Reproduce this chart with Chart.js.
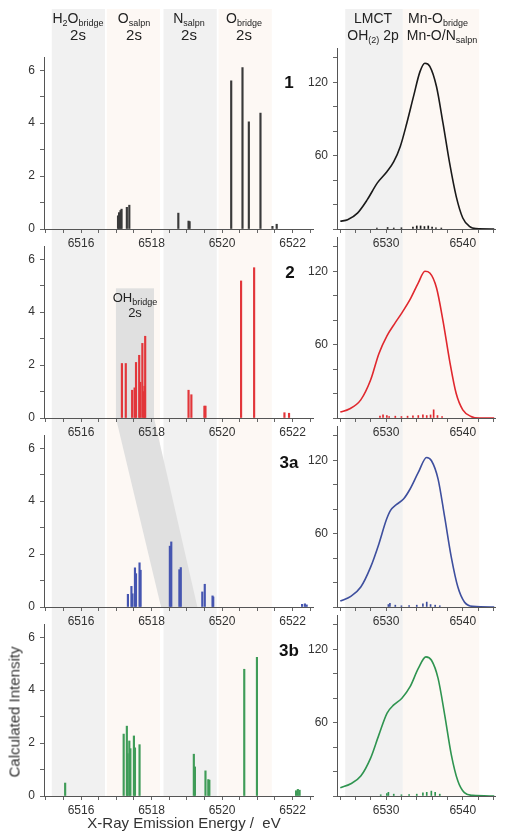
<!DOCTYPE html>
<html><head><meta charset="utf-8">
<script src="https://cdn.jsdelivr.net/npm/chart.js@4/dist/chart.umd.min.js"></script>
<style>
html,body{margin:0;padding:0;background:#fff}
body{width:507px;height:837px;overflow:hidden;position:relative;font-family:"Liberation Sans",Arial,sans-serif;color:#222}
canvas{position:absolute}
.t{position:absolute;white-space:nowrap;line-height:1;transform:translate(-50%,-50%);text-align:center}
.s{font-size:9px;position:relative;top:3px}
.h{font-size:14px;color:#222}
.pl{font-weight:bold;font-size:17px;color:#111}
</style></head><body>
<script>
// ---------- DATA ----------
// Left column: calculated stick spectra (eV, intensity)
const sticks1X = [6517.05, 6517.08, 6517.12, 6517.15, 6517.30, 6517.37, 6518.76, 6519.05, 6519.08, 6520.26, 6520.58, 6520.76, 6521.09, 6521.43, 6521.55];
const sticks1Y = [0.50, 0.62, 0.70, 0.75, 0.82, 0.90, 0.60, 0.30, 0.28, 5.60, 6.10, 4.05, 4.38, 0.10, 0.18];
const sticks2X = [6517.16, 6517.27, 6517.45, 6517.52, 6517.56, 6517.65, 6517.68, 6517.74, 6517.78, 6517.80, 6517.82, 6519.05, 6519.13, 6519.50, 6519.53, 6520.54, 6520.91, 6521.77, 6521.90];
const sticks2Y = [2.06, 2.06, 1.05, 1.14, 2.10, 2.37, 1.35, 2.82, 1.00, 1.20, 3.09, 1.05, 0.88, 0.45, 0.45, 5.18, 5.68, 0.20, 0.18];
const sticks3aX = [6517.33, 6517.43, 6517.46, 6517.53, 6517.56, 6517.66, 6517.69, 6518.52, 6518.56, 6518.79, 6518.83, 6519.44, 6519.51, 6519.73, 6519.75, 6522.27, 6522.35, 6522.40];
const sticks3aY = [0.48, 0.78, 0.50, 1.48, 1.26, 1.67, 1.39, 2.30, 2.46, 1.41, 1.49, 0.57, 0.86, 0.42, 0.38, 0.10, 0.12, 0.08];
const sticks3bX = [6515.55, 6517.21, 6517.30, 6517.32, 6517.37, 6517.40, 6517.50, 6517.53, 6517.66, 6519.20, 6519.23, 6519.53, 6519.61, 6519.64, 6520.63, 6520.99, 6522.10, 6522.15, 6522.20];
const sticks3bY = [0.49, 2.34, 2.64, 1.60, 2.08, 1.79, 2.27, 1.82, 1.94, 1.58, 1.10, 0.95, 0.62, 0.60, 4.79, 5.24, 0.20, 0.25, 0.22];

// Right column: broadened spectra (eV, intensity)
const curve1X = [6524.03, 6524.98, 6526.27, 6527.55, 6528.84, 6530.13, 6531.00, 6531.85, 6532.70, 6533.56, 6534.42, 6535.06, 6535.70, 6536.57, 6537.42, 6538.28, 6539.14, 6540.00, 6540.86, 6541.70, 6544.10];
const curve1Y = [6.3, 7.6, 13.0, 24.0, 37.5, 47.0, 55.0, 67.5, 86.5, 108.0, 128.7, 135.5, 133.0, 116.5, 86.5, 54.0, 26.7, 9.0, 2.2, 0.3, 0.0];
const curve2X = [6524.03, 6525.20, 6526.70, 6527.98, 6529.06, 6530.13, 6531.20, 6532.06, 6533.13, 6534.20, 6535.06, 6535.70, 6536.57, 6537.42, 6538.28, 6539.14, 6540.00, 6541.07, 6542.15, 6544.10];
const curve2Y = [4.9, 7.3, 14.8, 31.0, 52.6, 67.4, 78.0, 86.0, 97.0, 110.5, 120.0, 118.6, 106.5, 79.5, 47.0, 20.0, 6.7, 1.3, 0.0, 0.0];
const curve3aX = [6524.03, 6525.40, 6526.70, 6527.98, 6529.06, 6530.00, 6530.56, 6531.33, 6532.27, 6533.13, 6534.20, 6535.28, 6535.92, 6536.78, 6537.64, 6538.50, 6539.36, 6540.21, 6541.29, 6544.10];
const curve3aY = [4.9, 8.7, 16.3, 32.6, 51.6, 70.7, 78.8, 83.7, 88.3, 96.5, 110.0, 122.3, 119.6, 104.6, 73.4, 40.8, 16.3, 4.1, 0.5, 0.0];
const curve3bX = [6524.03, 6525.40, 6526.70, 6527.98, 6529.06, 6530.13, 6531.00, 6532.06, 6533.13, 6534.20, 6535.19, 6535.92, 6536.78, 6537.64, 6538.50, 6539.36, 6540.21, 6541.29, 6544.10];
const curve3bY = [6.8, 10.0, 16.3, 31.0, 50.0, 67.8, 74.5, 80.0, 89.4, 104.3, 113.8, 111.0, 96.2, 66.4, 33.9, 12.2, 2.7, 0.5, 0.0];

// Right column: small sticks under the curves
const rs1X = [6528.8, 6530.2, 6531.0, 6532.0, 6533.5, 6534.0, 6534.5, 6535.0, 6535.5, 6536.0, 6536.5, 6537.2];
const rs1Y = [0.8, 1.2, 0.8, 1.0, 1.5, 2.5, 2.5, 2.0, 2.5, 1.5, 1.0, 0.8];
const rs2X = [6529.2, 6529.6, 6530.1, 6530.4, 6531.2, 6532.0, 6532.8, 6533.5, 6534.2, 6534.8, 6535.3, 6535.8, 6536.2, 6536.7, 6537.3];
const rs2Y = [1.5, 2.5, 2.0, 1.2, 1.5, 1.2, 1.5, 1.8, 2.0, 2.5, 2.0, 2.5, 6.7, 2.0, 1.2];
const rs3aX = [6530.3, 6530.5, 6531.2, 6532.0, 6533.0, 6534.0, 6534.8, 6535.3, 6535.8, 6536.4, 6537.0];
const rs3aY = [2.0, 3.0, 1.5, 1.0, 1.2, 1.5, 2.5, 4.0, 2.0, 1.5, 1.0];
const rs3bX = [6529.3, 6530.1, 6530.3, 6531.0, 6532.0, 6533.0, 6534.0, 6534.8, 6535.3, 6535.9, 6536.4, 6537.0];
const rs3bY = [1.0, 2.0, 3.0, 1.5, 1.0, 1.2, 1.5, 2.5, 3.0, 4.0, 3.0, 1.5];

// Energy ranges of the shaded orbital regions
const leftBandFrom = [6515.17, 6516.73, 6518.34, 6519.90];
const leftBandTo   = [6516.68, 6518.24, 6519.85, 6521.41];
const rightBandFrom = [6524.67, 6532.19];
const rightBandTo   = [6532.19, 6542.14];
// OH-bridge highlight: energy range in panel 2 and its shifted range in panel 3a, top intensity
const ohRange2 = [6516.99, 6518.07];
const ohRange3a = [6518.27, 6519.30];
const ohTop = 4.9;

// Axis ranges
const leftX = [6514.95, 6522.58];
const leftY = [0, 6.5];
const rightX = [6523.6, 6544.2];
const rightY = [0, 148];

// ---------- LAYOUT ----------
const BASE = [229, 418, 607, 796];
const CB = 220, CH = 242;
const bandColors = ['#f1f1f1', '#fdf8f4'];
const FONT = '"Liberation Sans", Arial, sans-serif';
Chart.defaults.font.family = FONT;
Chart.defaults.color = '#333';

function isMult(v, m){ return Math.abs(v/m - Math.round(v/m)) < 1e-6; }

function bandsPlugin(k, from, to, withOH){
  return {
    id: 'bg' + k,
    beforeDraw(chart){
      const ctx = chart.ctx, xs = chart.scales.x, ys = chart.scales.y;
      const top = BASE[k] - CB;
      const s0 = k === 0 ? 0 : (BASE[k-1] + 22) - top;
      const s1 = k === 3 ? chart.chartArea.bottom : CH;
      ctx.save();
      ctx.beginPath(); ctx.rect(0, s0, chart.width, s1 - s0); ctx.clip();
      from.forEach((f, i) => {
        const a = xs.getPixelForValue(f), b = xs.getPixelForValue(to[i]);
        ctx.fillStyle = bandColors[i % 2];
        ctx.fillRect(a, s0, b - a, s1 - s0);
      });
      if (withOH) {
        ctx.fillStyle = '#e0e0e0';
        const bot = chart.chartArea.bottom;
        let yTop, yBot;
        if (k === 1) {
          const a = xs.getPixelForValue(ohRange2[0]), b = xs.getPixelForValue(ohRange2[1]);
          const yt = ys.getPixelForValue(ohTop);
          ctx.fillRect(a, yt, b - a, bot - yt);
          yTop = bot; yBot = bot + (BASE[2] - BASE[1]);
        } else {
          yTop = bot - (BASE[2] - BASE[1]); yBot = bot;
        }
        ctx.beginPath();
        ctx.moveTo(xs.getPixelForValue(ohRange2[0]), yTop);
        ctx.lineTo(xs.getPixelForValue(ohRange2[1]), yTop);
        ctx.lineTo(xs.getPixelForValue(ohRange3a[1]), yBot);
        ctx.lineTo(xs.getPixelForValue(ohRange3a[0]), yBot);
        ctx.closePath(); ctx.fill();
      }
      ctx.restore();
    }
  };
}

function mkCanvas(left, top, w, h){
  const c = document.createElement('canvas');
  c.width = w; c.height = h;
  c.style.left = left + 'px'; c.style.top = top + 'px';
  c.style.width = w + 'px'; c.style.height = h + 'px';
  document.body.appendChild(c);
  return c;
}

function axisCommon(){
  return {
    grid: {display: true, drawOnChartArea: false, drawTicks: true, tickLength: 4, color: '#666', offset: false},
    border: {display: true, color: '#555', width: 1},
  };
}

function leftChart(k, xs, ys, color){
  const cv = mkCanvas(0, BASE[k] - CB, 320, CH);
  new Chart(cv, {
    type: 'bar',
    data: {datasets: [{data: xs.map((x, i) => ({x: x, y: ys[i]})), backgroundColor: color, borderWidth: 0, barThickness: 1.5}]},
    options: {
      responsive: false, animation: false, devicePixelRatio: 1,
      layout: {padding: {top: 48, right: 7, left: 0, bottom: 0}},
      plugins: {legend: {display: false}, tooltip: {enabled: false}},
      scales: {
        x: Object.assign(axisCommon(), {
          type: 'linear', min: leftX[0], max: leftX[1], offset: false,
          ticks: {stepSize: 0.5, includeBounds: false, autoSkip: false, maxRotation: 0, minRotation: 0, padding: 3, color: '#333', font: {size: 12},
            callback: v => isMult(v, 2) ? String(Math.round(v)) : ''},
          afterFit: s => { s.height = CH - CB; }
        }),
        y: Object.assign(axisCommon(), {
          min: leftY[0], max: leftY[1],
          ticks: {stepSize: 1, includeBounds: false, autoSkip: false, padding: 5, color: '#333', font: {size: 12},
            callback: v => isMult(v, 2) ? String(Math.round(v)) : ''},
          afterFit: s => { s.width = 44; }
        })
      }
    },
    plugins: [bandsPlugin(k, leftBandFrom, leftBandTo, k === 1 || k === 2)]
  });
}

function rightChart(k, cx, cy, sx, sy, color){
  const cv = mkCanvas(297, BASE[k] - CB, 210, CH);
  new Chart(cv, {
    type: 'line',
    data: {datasets: [
      {type: 'line', data: cx.map((x, i) => ({x: x, y: cy[i]})), borderColor: color, borderWidth: 1.6, pointRadius: 0, fill: false, cubicInterpolationMode: 'monotone', order: 0},
      {type: 'bar', data: sx.map((x, i) => ({x: x, y: sy[i]})), backgroundColor: color, borderWidth: 0, barThickness: 1, order: 1}
    ]},
    options: {
      responsive: false, animation: false, devicePixelRatio: 1,
      layout: {padding: {top: 39, right: 12, left: 0, bottom: 0}},
      plugins: {legend: {display: false}, tooltip: {enabled: false}},
      scales: {
        x: Object.assign(axisCommon(), {
          type: 'linear', min: rightX[0], max: rightX[1], offset: false,
          ticks: {stepSize: 2, includeBounds: false, autoSkip: false, maxRotation: 0, minRotation: 0, padding: 3, color: '#333', font: {size: 12},
            callback: v => isMult(v, 10) ? String(Math.round(v)) : ''},
          afterFit: s => { s.height = CH - CB; }
        }),
        y: Object.assign(axisCommon(), {
          min: rightY[0], max: rightY[1],
          ticks: {stepSize: 20, includeBounds: false, autoSkip: false, padding: 5, color: '#333', font: {size: 12},
            callback: v => (v > 0 && isMult(v, 60)) ? String(Math.round(v)) : ''},
          afterFit: s => { s.width = 40; }
        })
      }
    },
    plugins: [bandsPlugin(k, rightBandFrom, rightBandTo, false)]
  });
}

leftChart(0, sticks1X, sticks1Y, '#3a3a3a');
rightChart(0, curve1X, curve1Y, rs1X, rs1Y, '#1a1a1a');
leftChart(1, sticks2X, sticks2Y, '#e2363a');
rightChart(1, curve2X, curve2Y, rs2X, rs2Y, '#e0282e');
leftChart(2, sticks3aX, sticks3aY, '#4555b0');
rightChart(2, curve3aX, curve3aY, rs3aX, rs3aY, '#3e4f9e');
leftChart(3, sticks3bX, sticks3bY, '#3f9c58');
rightChart(3, curve3bX, curve3bY, rs3bX, rs3bY, '#2f9450');

// ---------- TEXT ----------
function addText(html, x, y, cls, extra){
  const d = document.createElement('div');
  d.className = 't ' + (cls || '');
  d.innerHTML = html;
  d.style.left = x + 'px'; d.style.top = y + 'px';
  if (extra) Object.assign(d.style, extra);
  document.body.appendChild(d);
  return d;
}
addText('H<span class="s">2</span>O<span class="s">bridge</span>', 78, 18, 'h');
addText('2s', 78, 34, 'h', {fontSize: '15px'});
addText('O<span class="s">salpn</span>', 134, 18, 'h');
addText('2s', 134, 34, 'h', {fontSize: '15px'});
addText('N<span class="s">salpn</span>', 189, 18, 'h');
addText('2s', 189, 34, 'h', {fontSize: '15px'});
addText('O<span class="s">bridge</span>', 244, 18, 'h');
addText('2s', 244, 34, 'h', {fontSize: '15px'});
addText('LMCT', 373, 18, 'h');
addText('OH<span class="s">(2)</span> 2p', 373, 35, 'h');
addText('Mn-O<span class="s">bridge</span>', 438, 18, 'h');
addText('Mn-O/N<span class="s">salpn</span>', 442, 35, 'h');
addText('OH<span class="s">bridge</span>', 135, 297, 'h', {fontSize: '13px'});
addText('2s', 135, 312, 'h', {fontSize: '13px'});
addText('1', 289, 82, 'pl');
addText('2', 290, 272, 'pl');
addText('3a', 289, 462, 'pl');
addText('3b', 289, 650, 'pl');
addText('Calculated Intensity', 14, 712, '', {fontSize: '15px', color: '#333', transform: 'translate(-50%,-50%) rotate(-90deg)'});
addText('X-Ray Emission Energy /&nbsp; eV', 184, 822, '', {fontSize: '15px', color: '#333'});
</script>
</body></html>
